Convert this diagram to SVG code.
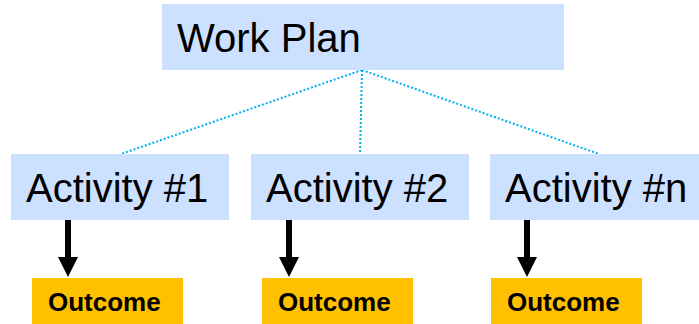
<svg xmlns="http://www.w3.org/2000/svg" width="699" height="324" viewBox="0 0 699 324">
<style>
.box{fill:#CCE0FF}
.out{fill:#FFC000}
.t{font-family:"Liberation Sans",Arial,sans-serif;font-size:40px;fill:#000}
.o{font-family:"Liberation Sans",Arial,sans-serif;font-size:26px;font-weight:bold;fill:#000}
.dot{stroke:#00B0F0;stroke-width:2;stroke-dasharray:2 2;fill:none}
.arr{stroke:#000;stroke-width:6;fill:none}
</style>
<defs>
<marker id="ah" markerUnits="userSpaceOnUse" markerWidth="20" markerHeight="20" refX="3" refY="10" orient="auto" viewBox="0 0 20 20" overflow="visible">
<path d="M0,0 L20,10 L0,20 Z" fill="#000"/>
</marker>
</defs>
<g id="connectors">
<line class="dot" x1="362" y1="70" x2="121" y2="154"/>
<line class="dot" x1="362" y1="70" x2="360" y2="154"/>
<line class="dot" x1="362" y1="70" x2="599" y2="154"/>
<line class="arr" x1="68" y1="220" x2="68" y2="260" marker-end="url(#ah)"/>
<line class="arr" x1="289" y1="220" x2="289" y2="260" marker-end="url(#ah)"/>
<line class="arr" x1="527" y1="220" x2="527" y2="260" marker-end="url(#ah)"/>
</g>
<g id="workplan">
<rect class="box" x="162" y="4" width="402" height="66"/>
<text class="t" x="177" y="52">Work Plan</text>
</g>
<g id="activity1">
<rect class="box" x="11" y="154" width="218" height="66"/>
<text class="t" x="26" y="202">Activity #1</text>
</g>
<g id="activity2">
<rect class="box" x="251" y="154" width="218" height="66"/>
<text class="t" x="266" y="202">Activity #2</text>
</g>
<g id="activityn">
<rect class="box" x="490" y="154" width="209" height="66"/>
<text class="t" x="505" y="202">Activity #n</text>
</g>
<g id="outcome1">
<rect class="out" x="32" y="278" width="151" height="46"/>
<text class="o" x="48" y="311">Outcome</text>
</g>
<g id="outcome2">
<rect class="out" x="262" y="278" width="151" height="46"/>
<text class="o" x="278" y="311">Outcome</text>
</g>
<g id="outcomen">
<rect class="out" x="491" y="278" width="151" height="46"/>
<text class="o" x="507" y="311">Outcome</text>
</g>
</svg>
